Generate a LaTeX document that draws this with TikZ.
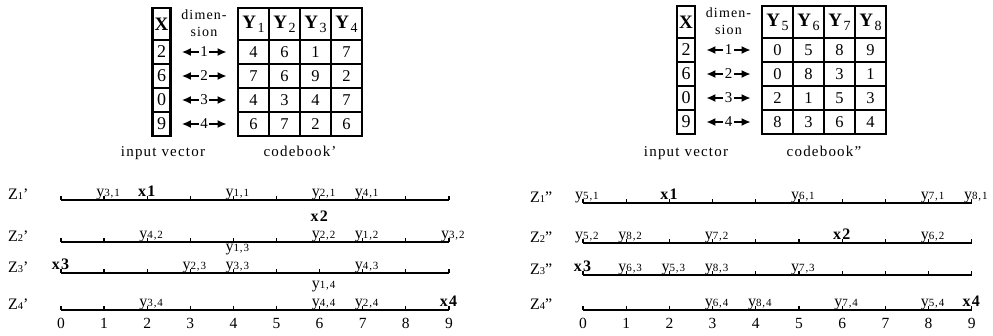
\documentclass[tikz,border=0pt]{standalone}
\usepackage{fontspec}
\setmainfont{Liberation Serif}[LetterSpace=8]
\usepackage{tikz}
\usetikzlibrary{arrows.meta}

\newcommand{\ylab}[1]{\llap{y}{\fontsize{11}{11}\selectfont #1}}
\newcommand{\xlab}[1]{\llap{\textbf{x}}\textbf{#1}}
\newcommand{\zlab}[2]{Z{\fontsize{10.5}{10}\selectfont #1}#2}
\newcommand{\yhead}[1]{\textbf{Y}\raisebox{-4pt}{\fontsize{14}{14}\selectfont #1}}

\tikzset{
  cbcell/.style={draw, line width=2.6pt, minimum width=31pt, minimum height=24pt, inner sep=0pt, font=\fontsize{16.5}{16}\selectfont},
  cbhead/.style={cbcell, minimum height=32pt, font=\fontsize{19}{19}\selectfont},
  xcell/.style={cbcell, minimum width=18pt, font=\fontsize{18}{18}\selectfont},
  xhead/.style={xcell, minimum height=32pt, font=\fontsize{19}{19}\selectfont\bfseries},
  dimtext/.style={align=center, inner sep=0pt, font=\fontsize{14}{17}\selectfont},
  dimnum/.style={inner sep=1.5pt, font=\fontsize{15}{15}\selectfont},
  dimarrow/.style={-{Latex[length=9pt,width=8pt]}, line width=1.8pt, shorten >=10pt},
  caption/.style={anchor=base, inner sep=0pt, font=\fontsize{15}{16}\selectfont},
  axisline/.style={line width=1.7pt},
  axistick/.style={line width=1.3pt},
  ticknum/.style={anchor=base, inner sep=0pt, font=\fontsize{15.5}{15}\selectfont},
  zname/.style={anchor=base west, inner sep=0pt, font=\fontsize{16}{16}\selectfont},
  point/.style={anchor=base west, inner sep=0pt, font=\fontsize{16}{16}\selectfont},
}

\begin{document}
\begin{tikzpicture}[x=1pt, y=-1pt]
\useasboundingbox (0,0) rectangle (993,335);

% Left table: input vector
\node[xhead] (lxh) at (161.5,24) {X};
\node[xcell] (lx1) at (161.5,52) {2};
\node[xcell] (lx2) at (161.5,76) {6};
\node[xcell] (lx3) at (161.5,100) {0};
\node[xcell] (lx4) at (161.5,124) {9};

% Left table: codebook'
\node[cbhead] (lyh1) at (253.5,24) {\yhead{1}};
\node[cbhead] (lyh2) at (284.5,24) {\yhead{2}};
\node[cbhead] (lyh3) at (315.5,24) {\yhead{3}};
\node[cbhead] (lyh4) at (346.5,24) {\yhead{4}};
\node[cbcell] (lc11) at (253.5,52) {4}; \node[cbcell] (lc12) at (284.5,52) {6}; \node[cbcell] (lc13) at (315.5,52) {1}; \node[cbcell] (lc14) at (346.5,52) {7};
\node[cbcell] (lc21) at (253.5,76) {7}; \node[cbcell] (lc22) at (284.5,76) {6}; \node[cbcell] (lc23) at (315.5,76) {9}; \node[cbcell] (lc24) at (346.5,76) {2};
\node[cbcell] (lc31) at (253.5,100) {4}; \node[cbcell] (lc32) at (284.5,100) {3}; \node[cbcell] (lc33) at (315.5,100) {4}; \node[cbcell] (lc34) at (346.5,100) {7};
\node[cbcell] (lc41) at (253.5,124) {6}; \node[cbcell] (lc42) at (284.5,124) {7}; \node[cbcell] (lc43) at (315.5,124) {2}; \node[cbcell] (lc44) at (346.5,124) {6};

% Left dimension column
\node[dimtext] (ldim) at (204,23.5) {dimen-\\sion};
\node[dimnum] (ln1) at (204,52) {1};
\node[dimnum] (ln2) at (204,76) {2};
\node[dimnum] (ln3) at (204,100) {3};
\node[dimnum] (ln4) at (204,124) {4};
\draw[dimarrow] (ln1) -- (lx1); \draw[dimarrow] (ln1) -- (lc11);
\draw[dimarrow] (ln2) -- (lx2); \draw[dimarrow] (ln2) -- (lc21);
\draw[dimarrow] (ln3) -- (lx3); \draw[dimarrow] (ln3) -- (lc31);
\draw[dimarrow] (ln4) -- (lx4); \draw[dimarrow] (ln4) -- (lc41);

\node[caption] (lin) at (163,156) {input vector};
\node[caption] (lcb) at (300,156) {codebook'};

% Right table: input vector
\node[xhead] (rxh) at (686,22) {X};
\node[xcell] (rx1) at (686,50) {2};
\node[xcell] (rx2) at (686,74) {6};
\node[xcell] (rx3) at (686,98) {0};
\node[xcell] (rx4) at (686,122) {9};

% Right table: codebook''
\node[cbhead] (ryh1) at (777.5,22) {\yhead{5}};
\node[cbhead] (ryh2) at (808.5,22) {\yhead{6}};
\node[cbhead] (ryh3) at (839.5,22) {\yhead{7}};
\node[cbhead] (ryh4) at (870.5,22) {\yhead{8}};
\node[cbcell] (rc11) at (777.5,50) {0}; \node[cbcell] (rc12) at (808.5,50) {5}; \node[cbcell] (rc13) at (839.5,50) {8}; \node[cbcell] (rc14) at (870.5,50) {9};
\node[cbcell] (rc21) at (777.5,74) {0}; \node[cbcell] (rc22) at (808.5,74) {8}; \node[cbcell] (rc23) at (839.5,74) {3}; \node[cbcell] (rc24) at (870.5,74) {1};
\node[cbcell] (rc31) at (777.5,98) {2}; \node[cbcell] (rc32) at (808.5,98) {1}; \node[cbcell] (rc33) at (839.5,98) {5}; \node[cbcell] (rc34) at (870.5,98) {3};
\node[cbcell] (rc41) at (777.5,122) {8}; \node[cbcell] (rc42) at (808.5,122) {3}; \node[cbcell] (rc43) at (839.5,122) {6}; \node[cbcell] (rc44) at (870.5,122) {4};

% Right dimension column
\node[dimtext] (rdim) at (728.5,21.5) {dimen-\\sion};
\node[dimnum] (rn1) at (728.5,50) {1};
\node[dimnum] (rn2) at (728.5,74) {2};
\node[dimnum] (rn3) at (728.5,98) {3};
\node[dimnum] (rn4) at (728.5,122) {4};
\draw[dimarrow] (rn1) -- (rx1); \draw[dimarrow] (rn1) -- (rc11);
\draw[dimarrow] (rn2) -- (rx2); \draw[dimarrow] (rn2) -- (rc21);
\draw[dimarrow] (rn3) -- (rx3); \draw[dimarrow] (rn3) -- (rc31);
\draw[dimarrow] (rn4) -- (rx4); \draw[dimarrow] (rn4) -- (rc41);

\node[caption] (rin) at (686,156) {input vector};
\node[caption] (rcb) at (824,156) {codebook''};

% Left axes Z1'..Z4'
\coordinate (lz1a) at (61,200); \coordinate (lz1b) at (448.9,200);
\coordinate (lz2a) at (61,242); \coordinate (lz2b) at (448.9,242);
\coordinate (lz3a) at (61,273); \coordinate (lz3b) at (448.9,273);
\coordinate (lz4a) at (61,310); \coordinate (lz4b) at (448.9,310);
\draw[axisline] (lz1a) -- (lz1b);
\draw[axisline] (lz2a) -- (lz2b);
\draw[axisline] (lz3a) -- (lz3b);
\draw[axisline] (lz4a) -- (lz4b);
\foreach \zy in {200,242,273,310} {
  \foreach \i in {0,...,9} {\draw[axistick] (61+43.1*\i,\zy) -- ++(0,-4);}
}
\foreach \i in {0,...,9} {\node[ticknum] (lt\i) at (61+43.1*\i,328) {\i};}
\node[zname] (lzn1) at (8,199) {\zlab{1}{'}};
\node[zname] (lzn2) at (8,241) {\zlab{2}{'}};
\node[zname] (lzn3) at (8,272) {\zlab{3}{'}};
\node[zname] (lzn4) at (8,309) {\zlab{4}{'}};

% Points on Z1'
\node[point] (la31) at (104.1,196) {\ylab{3,1}};
\node[point] (lax1) at (147.2,196) {\xlab{1}};
\node[point] (la11) at (233.4,196) {\ylab{1,1}};
\node[point] (la21) at (319.6,196) {\ylab{2,1}};
\node[point] (la41) at (362.7,196) {\ylab{4,1}};
% Points on Z2'
\node[point] (la42) at (147.2,238) {\ylab{4,2}};
\node[point] (la22) at (319.6,238) {\ylab{2,2}};
\node[point] (lax2) at (319.6,221) {\xlab{2}};
\node[point] (la12) at (362.7,238) {\ylab{1,2}};
\node[point] (la32) at (448.9,238) {\ylab{3,2}};
% Points on Z3'
\node[point] (lax3) at (61,269) {\xlab{3}};
\node[point] (la23) at (190.3,269) {\ylab{2,3}};
\node[point] (la33) at (233.4,269) {\ylab{3,3}};
\node[point] (la13) at (233.4,251) {\ylab{1,3}};
\node[point] (la43) at (362.7,269) {\ylab{4,3}};
% Points on Z4'
\node[point] (la34) at (147.2,306) {\ylab{3,4}};
\node[point] (la44) at (319.6,306) {\ylab{4,4}};
\node[point] (la14) at (319.6,288) {\ylab{1,4}};
\node[point] (la24) at (362.7,306) {\ylab{2,4}};
\node[point] (lax4) at (448.9,306) {\xlab{4}};

% Right axes Z1''..Z4''
\coordinate (rz1a) at (583,203); \coordinate (rz1b) at (971.8,203);
\coordinate (rz2a) at (583,243); \coordinate (rz2b) at (971.8,243);
\coordinate (rz3a) at (583,275); \coordinate (rz3b) at (971.8,275);
\coordinate (rz4a) at (583,310); \coordinate (rz4b) at (971.8,310);
\draw[axisline] (rz1a) -- (rz1b);
\draw[axisline] (rz2a) -- (rz2b);
\draw[axisline] (rz3a) -- (rz3b);
\draw[axisline] (rz4a) -- (rz4b);
\foreach \zy in {203,243,275,310} {
  \foreach \i in {0,...,9} {\draw[axistick] (583+43.2*\i,\zy) -- ++(0,-4);}
}
\foreach \i in {0,...,9} {\node[ticknum] (rt\i) at (583+43.2*\i,328) {\i};}
\node[zname] (rzn1) at (530,202) {\zlab{1}{''}};
\node[zname] (rzn2) at (530,242) {\zlab{2}{''}};
\node[zname] (rzn3) at (530,274) {\zlab{3}{''}};
\node[zname] (rzn4) at (530,309) {\zlab{4}{''}};

% Points on Z1''
\node[point] (ra51) at (583,199) {\ylab{5,1}};
\node[point] (rax1) at (669.4,199) {\xlab{1}};
\node[point] (ra61) at (799,199) {\ylab{6,1}};
\node[point] (ra71) at (928.6,199) {\ylab{7,1}};
\node[point] (ra81) at (971.8,199) {\ylab{8,1}};
% Points on Z2''
\node[point] (ra52) at (583,239) {\ylab{5,2}};
\node[point] (ra82) at (626.2,239) {\ylab{8,2}};
\node[point] (ra72) at (712.6,239) {\ylab{7,2}};
\node[point] (rax2) at (842.2,239) {\xlab{2}};
\node[point] (ra62) at (928.6,239) {\ylab{6,2}};
% Points on Z3''
\node[point] (rax3) at (583,271) {\xlab{3}};
\node[point] (ra63) at (626.2,271) {\ylab{6,3}};
\node[point] (ra53) at (669.4,271) {\ylab{5,3}};
\node[point] (ra83) at (712.6,271) {\ylab{8,3}};
\node[point] (ra73) at (799,271) {\ylab{7,3}};
% Points on Z4''
\node[point] (ra64) at (712.6,306) {\ylab{6,4}};
\node[point] (ra84) at (755.8,306) {\ylab{8,4}};
\node[point] (ra74) at (842.2,306) {\ylab{7,4}};
\node[point] (ra54) at (928.6,306) {\ylab{5,4}};
\node[point] (rax4) at (971.8,306) {\xlab{4}};

\end{tikzpicture}
\end{document}
